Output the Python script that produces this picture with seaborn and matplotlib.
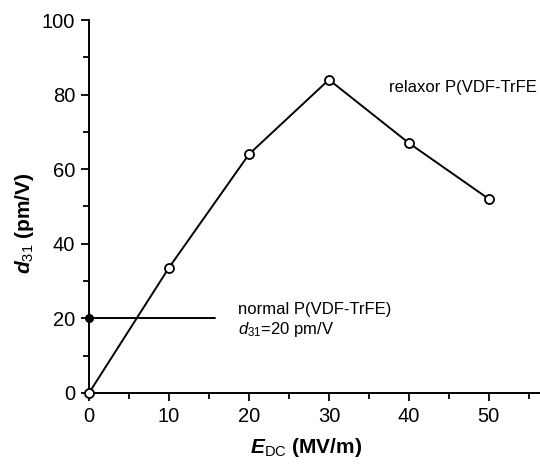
import numpy as np
import pandas as pd
import matplotlib
matplotlib.use('Agg')
import matplotlib.pyplot as plt
import seaborn as sns
from matplotlib.ticker import MultipleLocator

# relaxor P(VDF-TrFE) data
e_dc = [0, 10, 20, 30, 40, 50]
d31 = [0, 33.6, 64, 84, 67, 52]

# normal P(VDF-TrFE) reference level
normal_x = [0, 15.7]
normal_y = [20, 20]

sns.set_theme(style='ticks')
plt.rcParams['font.family'] = ['Liberation Sans', 'DejaVu Sans']
plt.rcParams['text.color'] = 'black'
plt.rcParams['axes.labelcolor'] = 'black'
plt.rcParams['mathtext.fontset'] = 'custom'
plt.rcParams['mathtext.rm'] = 'Liberation Sans'
plt.rcParams['mathtext.it'] = 'Liberation Sans:italic'
plt.rcParams['mathtext.bf'] = 'Liberation Sans:italic:bold'

fig = plt.figure(figsize=(5.4, 4.66), dpi=100)
ax = fig.add_axes([0.165, 0.157, 0.835, 0.8])

df = pd.DataFrame({'E': e_dc, 'd': d31})
sns.lineplot(data=df, x='E', y='d', ax=ax, color='black', lw=1.4,
             marker='o', markersize=6.5, markerfacecolor='white',
             markeredgecolor='black', markeredgewidth=1.3, clip_on=False, zorder=3)

ax.plot(normal_x, normal_y, color='black', lw=1.4)
ax.plot([normal_x[0]], [normal_y[0]], 'o', color='black', markersize=5.5, clip_on=False, zorder=4)

# text as printed in the source figure (closing bracket cut off there)
ax.text(37.5, 81.8, 'relaxor P(VDF-TrFE', fontsize=12, va='center')
ax.text(18.6, 22.3, 'normal P(VDF-TrFE)', fontsize=12, va='center')
ax.text(18.6, 16.9, r'$\mathit{d}_{\mathrm{31}}$=20 pm/V', fontsize=12, va='center')

ax.set_xlim(0, 56.4)
ax.set_ylim(0, 100)
ax.xaxis.set_major_locator(MultipleLocator(10))
ax.xaxis.set_minor_locator(MultipleLocator(5))
ax.yaxis.set_major_locator(MultipleLocator(20))
ax.yaxis.set_minor_locator(MultipleLocator(10))
ax.tick_params(which='major', direction='out', length=6, width=1.3, labelsize=14.5,
               colors='black', pad=4)
ax.tick_params(which='minor', direction='out', length=4, width=1.3, colors='black')
for s in ['left', 'bottom']:
    ax.spines[s].set_linewidth(1.4)
    ax.spines[s].set_color('black')
sns.despine(ax=ax)

ax.set_xlabel(r'$\mathbf{E}_{\mathrm{DC}}$ (MV/m)', fontsize=15, fontweight='bold')
ax.set_ylabel(r'$\mathbf{d}_{\mathrm{31}}$ (pm/V)', fontsize=15, fontweight='bold')
ax.xaxis.set_label_coords(0.482, -0.117)
ax.yaxis.set_label_coords(-0.118, 0.455)

fig.savefig('out.png', dpi=100)
